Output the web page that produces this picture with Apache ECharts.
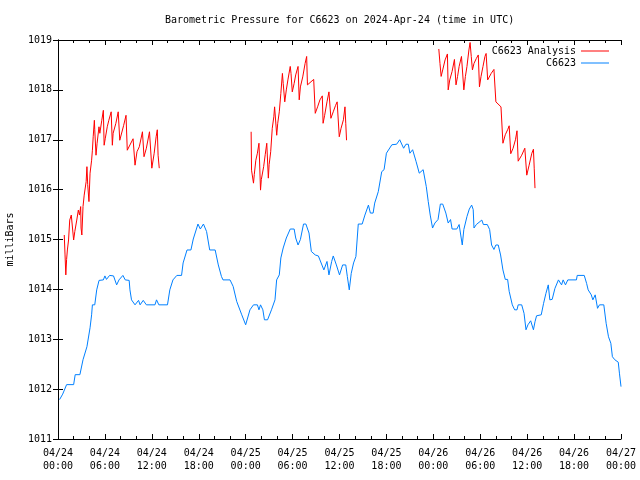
<!DOCTYPE html>
<html>
<head>
<meta charset="utf-8">
<script src="https://cdn.jsdelivr.net/npm/echarts@6/dist/echarts.min.js"></script>
<style>html,body{margin:0;padding:0;background:#fff}#c{width:640px;height:480px}</style>
</head>
<body>
<div id="c"></div>
<script>
const titleText = 'Barometric Pressure for C6623 on 2024-Apr-24 (time in UTC)';
const yName = 'milliBars';
const tickDates = ['04/24','04/24','04/24','04/24','04/25','04/25','04/25','04/25','04/26','04/26','04/26','04/26','04/27'];
const tickTimes = ['00:00','06:00','12:00','18:00','00:00','06:00','12:00','18:00','00:00','06:00','12:00','18:00','00:00'];

// C6623 observations: hours since 04/24 00:00 and pressure (mb)
const obsHours = [0.2,0.6,1.1,2.0,2.2,2.8,3.2,3.7,4.1,4.3,4.4,4.7,4.95,5.25,5.8,6.0,6.2,6.6,7.1,7.5,7.8,8.3,8.6,9.1,9.2,9.4,9.85,10.3,10.5,10.9,11.3,12.4,12.6,12.9,14.0,14.3,14.7,15.2,15.8,16.0,16.5,17.0,17.3,17.9,18.2,18.6,19.0,19.4,20.1,20.5,20.9,21.1,22.0,22.4,22.85,23.5,24.0,24.2,24.55,25.0,25.5,25.7,25.9,26.2,26.4,26.8,27.3,27.75,27.96,28.3,28.5,28.8,29.2,29.7,30.2,30.4,30.7,31.0,31.4,31.7,32.1,32.4,32.9,33.3,33.5,33.7,34.0,34.4,34.65,35.0,35.2,35.6,36.0,36.4,36.8,37.0,37.25,37.5,37.8,38.1,38.4,38.9,39.25,39.7,39.95,40.3,40.5,40.96,41.4,41.7,42.0,42.7,43.3,43.7,44.2,44.5,44.8,45.0,45.35,45.8,46.2,46.7,47.1,47.35,47.6,47.9,48.2,48.6,48.9,49.2,49.6,49.9,50.2,50.4,51.0,51.3,51.5,51.7,51.9,52.3,52.6,52.9,53.1,53.2,53.5,54.2,54.4,54.9,55.2,55.45,55.75,56.0,56.3,56.6,56.9,57.2,57.5,57.7,58.1,58.4,58.7,58.85,59.3,59.6,59.85,60.1,60.45,60.8,61.0,61.2,61.8,62.1,62.4,62.7,62.9,63.2,63.55,64.0,64.4,64.6,64.9,65.2,66.3,66.4,67.3,67.6,67.8,68.2,68.4,68.7,69.0,69.25,69.8,70.1,70.4,70.7,70.9,71.2,71.65,71.8,72.0];
const obsValues = [1011.79,1011.9,1012.09,1012.09,1012.29,1012.29,1012.59,1012.85,1013.23,1013.49,1013.69,1013.69,1013.99,1014.18,1014.19,1014.27,1014.2,1014.28,1014.27,1014.09,1014.19,1014.28,1014.19,1014.18,1013.99,1013.79,1013.69,1013.78,1013.69,1013.78,1013.69,1013.69,1013.79,1013.69,1013.69,1013.99,1014.19,1014.28,1014.28,1014.53,1014.79,1014.79,1015.01,1015.31,1015.21,1015.31,1015.16,1014.79,1014.79,1014.49,1014.26,1014.19,1014.19,1014.06,1013.76,1013.49,1013.29,1013.29,1013.59,1013.69,1013.69,1013.59,1013.69,1013.59,1013.39,1013.39,1013.59,1013.79,1014.19,1014.29,1014.63,1014.83,1015.03,1015.21,1015.21,1015.03,1014.89,1015.0,1015.31,1015.31,1015.13,1014.76,1014.69,1014.67,1014.59,1014.6,1014.39,1014.56,1014.29,1014.56,1014.67,1014.49,1014.29,1014.49,1014.49,1014.26,1013.99,1014.32,1014.53,1014.66,1015.31,1015.31,1015.49,1015.69,1015.53,1015.53,1015.73,1015.96,1016.36,1016.4,1016.73,1016.9,1016.91,1017.0,1016.83,1016.91,1016.91,1016.73,1016.8,1016.56,1016.33,1016.4,1016.06,1015.76,1015.49,1015.23,1015.33,1015.4,1015.71,1015.71,1015.53,1015.33,1015.4,1015.21,1015.21,1015.3,1015.3,1014.89,1015.2,1015.46,1015.61,1015.69,1015.6,1015.23,1015.3,1015.39,1015.3,1015.3,1015.2,1014.89,1014.8,1014.89,1014.89,1014.69,1014.39,1014.2,1014.2,1013.96,1013.69,1013.59,1013.59,1013.69,1013.69,1013.52,1013.19,1013.29,1013.37,1013.19,1013.35,1013.47,1013.49,1013.72,1013.92,1014.09,1013.79,1013.8,1014.02,1014.19,1014.09,1014.19,1014.09,1014.19,1014.19,1014.28,1014.28,1014.12,1013.99,1013.89,1013.79,1013.89,1013.62,1013.69,1013.69,1013.32,1013.05,1012.92,1012.65,1012.59,1012.54,1012.32,1012.05];

// C6623 Analysis: three runs, separated by null gaps
const anaHours = [0.8,0.9,1.0,1.1,1.2,1.35,1.5,1.7,2.0,2.15,2.4,2.6,2.75,2.9,2.95,3.05,3.2,3.35,3.6,3.7,3.8,3.96,4.1,4.3,4.4,4.5,4.65,4.7,4.86,5.0,5.24,5.35,5.6,5.8,5.9,6.05,6.3,6.5,6.8,6.95,7.05,7.4,7.7,7.9,8.1,8.4,8.7,8.86,9.6,9.85,10.1,10.4,10.8,11.0,11.3,11.7,12.0,12.3,12.55,12.7,12.8,12.95,
  18,
  24.7,24.75,25.0,25.1,25.3,25.5,25.7,25.9,26.0,26.3,26.5,26.7,26.9,27.0,27.2,27.4,27.6,27.7,27.97,28.1,28.3,28.5,28.7,28.8,29.0,29.2,29.4,29.7,29.8,29.96,30.2,30.4,30.7,30.85,31.0,31.3,31.6,31.8,31.9,32.7,32.9,33.2,33.5,33.8,33.9,34.1,34.4,34.65,34.9,35.2,35.5,35.7,35.97,36.2,36.5,36.7,36.8,36.9,
  42,
  48.7,48.85,49.0,49.2,49.5,49.8,49.9,50.1,50.4,50.7,50.9,51.1,51.3,51.6,51.9,52.1,52.3,52.55,52.7,52.85,53.0,53.2,53.5,53.75,53.9,54.1,54.35,54.6,54.75,54.95,55.4,55.75,56.0,56.65,56.9,57.2,57.5,57.7,57.9,58.2,58.5,58.7,58.85,59.3,59.7,59.9,59.95,60.25,60.6,60.8,60.9,61.0];
const anaValues = [1015.09,1014.69,1014.29,1014.6,1014.79,1014.99,1015.39,1015.49,1014.99,1015.16,1015.39,1015.59,1015.49,1015.66,1015.23,1015.09,1015.66,1015.89,1016.16,1016.46,1016.1,1015.76,1016.33,1016.59,1016.79,1017.06,1017.39,1017.2,1016.69,1016.93,1017.26,1017.13,1017.39,1017.59,1016.89,1017.03,1017.26,1017.39,1017.56,1016.89,1017.13,1017.33,1017.56,1016.99,1016.99,1017.29,1017.49,1016.79,1017.02,1016.49,1016.76,1016.86,1017.16,1016.66,1016.83,1017.16,1016.43,1016.73,1017.06,1017.2,1016.69,1016.43,
  null,
  1017.16,1016.39,1016.13,1016.3,1016.59,1016.73,1016.93,1015.99,1016.2,1016.46,1016.7,1016.93,1016.23,1016.5,1016.76,1017.23,1017.46,1017.66,1017.09,1017.33,1017.56,1017.93,1018.33,1018.13,1017.76,1018.0,1018.2,1018.47,1018.33,1017.96,1018.13,1018.3,1018.47,1017.8,1018.06,1018.26,1018.53,1018.67,1018.1,1018.21,1017.53,1017.66,1017.8,1017.88,1017.33,1017.49,1017.76,1017.96,1017.43,1017.56,1017.69,1017.76,1017.06,1017.23,1017.4,1017.66,1017.33,1016.99,
  null,
  1018.82,1018.53,1018.27,1018.4,1018.6,1018.72,1018.0,1018.2,1018.37,1018.61,1018.1,1018.27,1018.47,1018.67,1018.0,1018.27,1018.47,1018.8,1018.95,1018.67,1018.4,1018.53,1018.63,1018.7,1018.06,1018.27,1018.47,1018.67,1018.73,1018.2,1018.33,1018.41,1017.76,1017.66,1016.93,1017.1,1017.2,1017.28,1016.72,1016.83,1017.0,1017.18,1016.57,1016.69,1016.83,1016.85,1016.29,1016.49,1016.73,1016.81,1016.43,1016.03];

const FONT = 'DejaVu Sans Mono';
const pair = (xs, ys) => xs.map((x, i) => [x, ys[i] === null ? '-' : ys[i]]);
// thin horizontal line icon inside a 28x12 box
const LINE_ICON = 'path://M0,0L0,0M0,5.5L28,5.5L28,6.5L0,6.5ZM28,12L28,12';

const xCommon = {
  type: 'value', min: 0, max: 72, interval: 6,
  axisLine: { show: true, lineStyle: { color: '#000', width: 1 } },
  axisTick: { show: true, inside: true, length: 5, lineStyle: { color: '#000' } },
  minorTick: { show: true, splitNumber: 3, length: 3, lineStyle: { color: '#000' } },
  splitLine: { show: false }, minorSplitLine: { show: false }
};
const yCommon = {
  type: 'value', min: 1011, max: 1019, interval: 1,
  axisLine: { show: true, lineStyle: { color: '#000', width: 1 } },
  axisTick: { show: true, inside: true, length: 5, lineStyle: { color: '#000' } },
  splitLine: { show: false }
};

const chart = echarts.init(document.getElementById('c'), null, { renderer: 'canvas' });
chart.setOption({
  animation: false,
  backgroundColor: '#fff',
  title: {
    text: titleText, left: 165, top: 15, padding: 0,
    textStyle: { fontFamily: FONT, fontSize: 10, fontWeight: 'normal', color: '#000' }
  },
  grid: { left: 58, right: 19, top: 40, bottom: 41, containLabel: false, outerBoundsMode: 'none' },
  legend: {
    orient: 'vertical', right: 31, top: 45, align: 'right', padding: 0,
    itemWidth: 28, itemHeight: 12, itemGap: 0,
    textStyle: { fontFamily: FONT, fontSize: 10, color: '#000' },
    data: [
      { name: 'C6623 Analysis', icon: LINE_ICON },
      { name: 'C6623', icon: LINE_ICON }
    ]
  },
  xAxis: [
    Object.assign({}, xCommon, {
      position: 'bottom',
      axisLabel: {
        show: true, margin: 8, fontFamily: FONT, fontSize: 10, color: '#000', lineHeight: 13,
        formatter: (v) => { const i = Math.round(v / 6); return tickDates[i] + '\n' + tickTimes[i]; }
      }
    }),
    Object.assign({}, xCommon, { position: 'top', axisLabel: { show: false } })
  ],
  yAxis: [
    Object.assign({}, yCommon, {
      position: 'left',
      name: yName, nameLocation: 'middle', nameRotate: 90, nameGap: 43,
      nameTextStyle: { fontFamily: FONT, fontSize: 10, color: '#000' },
      axisLabel: { show: true, margin: 6, fontFamily: FONT, fontSize: 10, color: '#000',
        formatter: (v) => String(v) }
    }),
    Object.assign({}, yCommon, { position: 'right', axisLabel: { show: false } })
  ],
  series: [
    {
      name: 'C6623 Analysis', type: 'line', xAxisIndex: 0, yAxisIndex: 0,
      data: pair(anaHours, anaValues), symbol: 'none', connectNulls: false,
      lineStyle: { color: '#ff0000', width: 1 }, itemStyle: { color: '#ff0000' }
    },
    {
      name: 'C6623', type: 'line', xAxisIndex: 0, yAxisIndex: 0,
      data: pair(obsHours, obsValues), symbol: 'none',
      lineStyle: { color: '#0080ff', width: 1 }, itemStyle: { color: '#0080ff' }
    }
  ]
});
</script>
</body>
</html>
